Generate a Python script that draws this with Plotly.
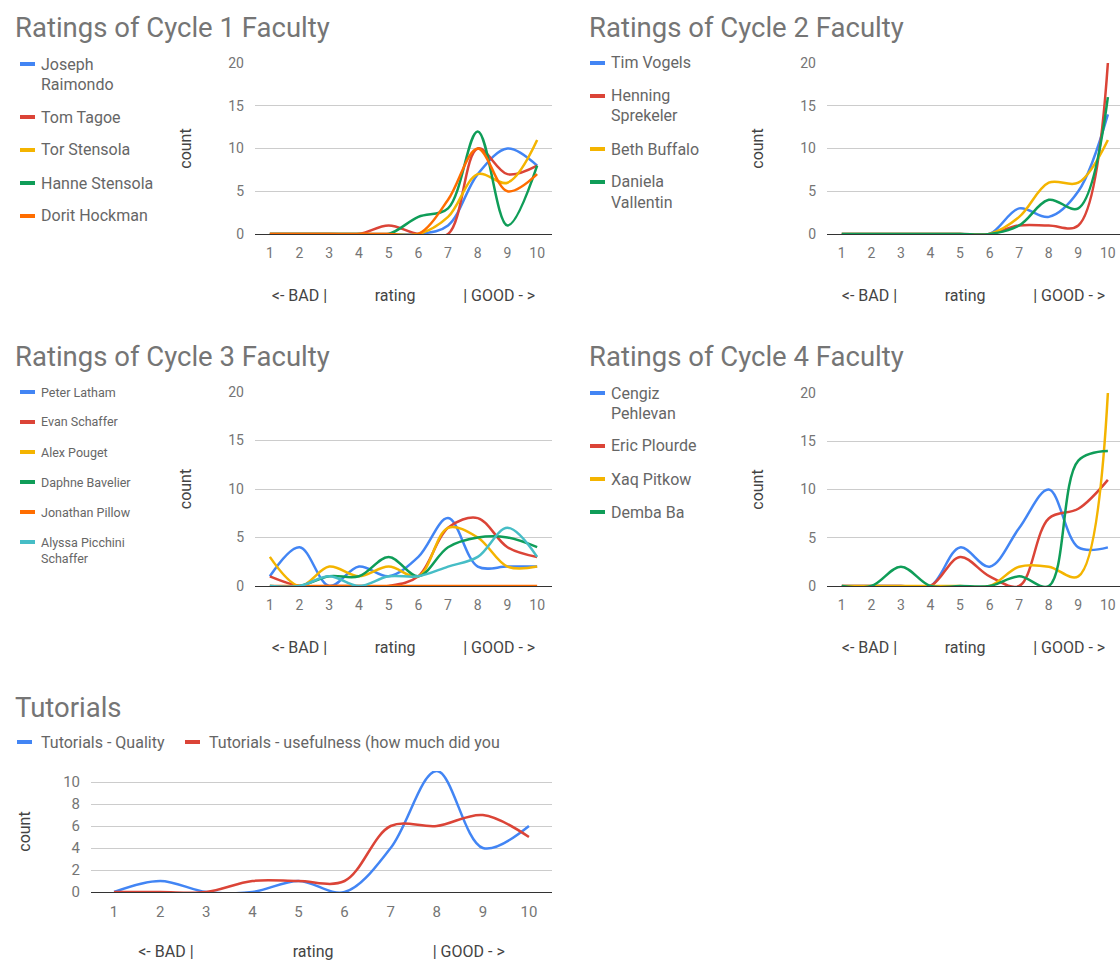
import textwrap
import plotly.graph_objects as go

W, H = 1120, 961

ratings = [1, 2, 3, 4, 5, 6, 7, 8, 9, 10]

# ---------- Cycle 1 ----------
c1_names = ["Joseph Raimondo", "Tom Tagoe", "Tor Stensola", "Hanne Stensola", "Dorit Hockman"]
c1_joseph = [0, 0, 0, 0, 0, 0, 1, 7, 10, 8]
c1_tom = [0, 0, 0, 0, 1, 0, 0, 10, 7, 8]
c1_tor = [0, 0, 0, 0, 0, 0, 2, 7, 6, 11]
c1_hanne = [0, 0, 0, 0, 0, 2, 3, 12, 1, 8]
c1_dorit = [0, 0, 0, 0, 0, 0, 4, 10, 5, 7]

# ---------- Cycle 2 ----------
c2_names = ["Tim Vogels", "Henning Sprekeler", "Beth Buffalo", "Daniela Vallentin"]
c2_tim = [0, 0, 0, 0, 0, 0, 3, 2, 5, 14]
c2_henning = [0, 0, 0, 0, 0, 0, 1, 1, 1, 20]
c2_beth = [0, 0, 0, 0, 0, 0, 2, 6, 6, 11]
c2_daniela = [0, 0, 0, 0, 0, 0, 1, 4, 3, 16]

# ---------- Cycle 3 ----------
c3_names = ["Peter Latham", "Evan Schaffer", "Alex Pouget", "Daphne Bavelier",
            "Jonathan Pillow", "Alyssa Picchini Schaffer"]
c3_peter = [1, 4, 0, 2, 1, 3, 7, 2, 2, 2]
c3_evan = [1, 0, 0, 0, 0, 1, 6, 7, 4, 3]
c3_alex = [3, 0, 2, 1, 2, 1, 6, 5, 2, 2]
c3_daphne = [0, 0, 1, 1, 3, 1, 4, 5, 5, 4]
c3_jonathan = [0, 0, 0, 0, 0, 0, 0, 0, 0, 0]
c3_alyssa = [0, 0, 1, 0, 1, 1, 2, 3, 6, 3]

# ---------- Cycle 4 ----------
c4_names = ["Cengiz Pehlevan", "Eric Plourde", "Xaq Pitkow", "Demba Ba"]
c4_cengiz = [0, 0, 0, 0, 4, 2, 6, 10, 4, 4]
c4_eric = [0, 0, 0, 0, 3, 1, 0, 7, 8, 11]
c4_xaq = [0, 0, 0, 0, 0, 0, 2, 2, 1, 20]
c4_demba = [0, 0, 2, 0, 0, 0, 1, 0, 13, 14]

# ---------- Tutorials ----------
tut_names = ["Tutorials - Quality", "Tutorials - usefulness (how much did you"]
tut_quality = [0, 1, 0, 0, 1, 0, 4, 11, 4, 6]
tut_useful = [0, 0, 0, 1, 1, 1, 6, 6, 7, 5]

titles = ["Ratings of Cycle 1 Faculty", "Ratings of Cycle 2 Faculty",
          "Ratings of Cycle 3 Faculty", "Ratings of Cycle 4 Faculty", "Tutorials"]
x_title_parts = ["<- BAD |", "rating", "| GOOD - >"]
y_title = "count"

colors = ["#4285f4", "#db4437", "#f4b400", "#0f9d58", "#ff6d00", "#46bdc6"]

FONT = "Roboto, Arial, sans-serif"
TITLE_C = "#757575"
LEG_C = "#666666"
TICK_C = "#757575"
AX_C = "#444444"
GRID_C = "#cccccc"
BASE_C = "#333333"


def px(x):
    return x / W


def py(y):
    return 1 - y / H


NB = "\u00a0"

panels = [
    dict(names=c1_names, series=[c1_joseph, c1_tom, c1_tor, c1_hanne, c1_dorit],
         xd=(255, 552), yd=(63, 234), xr=[0.5, 10.5], yr=[0, 20], ytv=[0, 5, 10, 15, 20],
         title=(15, 28), leg=dict(x=20, y=64, lh=20, step=33, fs=16, wrap=14),
         gap=12, xstand=30, ystand=32, tfs=14),
    dict(names=c2_names, series=[c2_tim, c2_henning, c2_beth, c2_daniela],
         xd=(827, 1120), yd=(63, 234), xr=[0.5, 10.41], yr=[0, 20], ytv=[0, 5, 10, 15, 20],
         title=(589, 28), leg=dict(x=590, y=63, lh=20, step=33, fs=16, wrap=14),
         gap=12, xstand=30, ystand=32, tfs=14),
    dict(names=c3_names, series=[c3_peter, c3_evan, c3_alex, c3_daphne, c3_jonathan, c3_alyssa],
         xd=(255, 552), yd=(392, 586), xr=[0.5, 10.5], yr=[0, 20], ytv=[0, 5, 10, 15, 20],
         title=(15, 356), leg=dict(x=20, y=392, lh=16, step=30, fs=12.5, wrap=18),
         gap=12, xstand=30, ystand=32, tfs=14),
    dict(names=c4_names, series=[c4_cengiz, c4_eric, c4_xaq, c4_demba],
         xd=(827, 1120), yd=(393, 586), xr=[0.5, 10.41], yr=[0, 20], ytv=[0, 5, 10, 15, 20],
         title=(589, 356), leg=dict(x=590, y=393, lh=20, step=33, fs=16, wrap=14),
         gap=12, xstand=30, ystand=32, tfs=14),
    dict(names=tut_names, series=[tut_quality, tut_useful],
         xd=(91, 552), yd=(771, 892), xr=[0.5, 10.5], yr=[0, 11], ytv=[0, 2, 4, 6, 8, 10],
         title=(15, 707), leg=dict(horizontal=True, y=742, xs=[17, 185], fs=16),
         gap=25, xstand=26, ystand=28, tfs=15),
]

fig = go.Figure()
annotations = []
shapes = []
layout_axes = {}

for i, p in enumerate(panels):
    n = i + 1
    xa = "x" if n == 1 else f"x{n}"
    ya = "y" if n == 1 else f"y{n}"
    for j, (name, vals) in enumerate(zip(p["names"], p["series"])):
        fig.add_trace(go.Scatter(
            x=ratings, y=vals, name=name, mode="lines",
            line=dict(color=colors[j], width=2.5, shape="spline", smoothing=1.0),
            xaxis=xa, yaxis=ya, showlegend=False,
            hovertemplate=name + ": %{y}<extra></extra>"))
    gap = NB * p["gap"]
    xtitle = x_title_parts[0] + gap + x_title_parts[1] + gap + x_title_parts[2]
    layout_axes["xaxis" if n == 1 else f"xaxis{n}"] = dict(
        domain=[px(p["xd"][0]), px(p["xd"][1])], range=p["xr"], anchor=ya,
        tickvals=ratings, showgrid=False, zeroline=False, automargin=False,
        showline=True, linecolor=BASE_C, linewidth=1, ticks="", layer="below traces",
        tickfont=dict(size=p["tfs"], color=TICK_C, family=FONT), ticklabelstandoff=6,
        title=dict(text=xtitle, font=dict(size=16, color=AX_C, family=FONT), standoff=p["xstand"]),
        fixedrange=True)
    layout_axes["yaxis" if n == 1 else f"yaxis{n}"] = dict(
        domain=[py(p["yd"][1]), py(p["yd"][0])], range=p["yr"], anchor=xa,
        tickvals=p["ytv"], showgrid=True, gridcolor=GRID_C, gridwidth=1,
        zeroline=False, showline=False, ticks="", automargin=False, layer="below traces",
        tickfont=dict(size=p["tfs"], color=TICK_C, family=FONT), ticklabelstandoff=10,
        title=dict(text=y_title, font=dict(size=16, color=AX_C, family=FONT), standoff=p["ystand"]),
        fixedrange=True)
    # title
    tx, ty = p["title"]
    annotations.append(dict(x=px(tx - 2), y=py(ty), xref="paper", yref="paper", text=titles[i],
                            showarrow=False, xanchor="left", yanchor="middle",
                            font=dict(size=27.5, color=TITLE_C, family=FONT)))
    # legend (drawn manually, Google-chart style)
    lg = p["leg"]
    if lg.get("horizontal"):
        for j, name in enumerate(p["names"]):
            mx = lg["xs"][j]
            shapes.append(dict(type="rect", xref="paper", yref="paper",
                               x0=px(mx), x1=px(mx + 15), y0=py(lg["y"] + 2), y1=py(lg["y"] - 2),
                               fillcolor=colors[j], line=dict(width=0)))
            annotations.append(dict(x=px(mx + 22), y=py(lg["y"]), xref="paper", yref="paper",
                                    text=name, showarrow=False, xanchor="left", yanchor="middle",
                                    font=dict(size=lg["fs"], color=LEG_C, family=FONT)))
    else:
        yc = lg["y"]
        for j, name in enumerate(p["names"]):
            lines = textwrap.wrap(name, lg["wrap"])
            shapes.append(dict(type="rect", xref="paper", yref="paper",
                               x0=px(lg["x"]), x1=px(lg["x"] + 15), y0=py(yc + 2), y1=py(yc - 2),
                               fillcolor=colors[j], line=dict(width=0)))
            for k, ln in enumerate(lines):
                annotations.append(dict(x=px(lg["x"] + 19), y=py(yc + k * lg["lh"]),
                                        xref="paper", yref="paper", text=ln, showarrow=False,
                                        xanchor="left", yanchor="middle",
                                        font=dict(size=lg["fs"], color=LEG_C, family=FONT)))
            yc += (len(lines) - 1) * lg["lh"] + lg["step"]

fig.update_layout(
    template="none",
    width=W, height=H, margin=dict(l=0, r=0, t=0, b=0, autoexpand=False),
    paper_bgcolor="white", plot_bgcolor="white",
    font=dict(family=FONT), showlegend=False,
    annotations=annotations, shapes=shapes, **layout_axes)

fig.write_html("out.html", config={"displayModeBar": False},
               post_script="document.body.style.margin='0';document.body.style.overflow='hidden';")
